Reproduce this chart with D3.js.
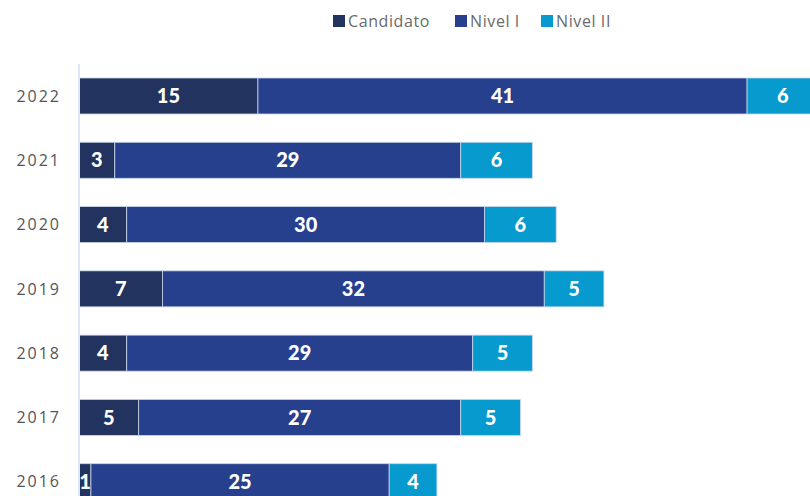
<!DOCTYPE html>
<html>
<head>
<meta charset="utf-8">
<script src="https://cdn.jsdelivr.net/npm/d3@7"></script>
<style>
  body { margin: 0; background: #fff; }
  svg { display: block; }
</style>
</head>
<body>
<div id="main"></div>
<script>
/// data ///
const years = ['2022', '2021', '2020', '2019', '2018', '2017', '2016'];
const series = ['Candidato', 'Nivel I', 'Nivel II'];
const candidato = [15, 3, 4, 7, 4, 5, 1];
const nivel1 = [41, 29, 30, 32, 29, 27, 25];
const nivel2 = [6, 6, 6, 5, 5, 5, 4];
const colors = ['#22335f', '#27408e', '#069ace'];

const w = 810;
const h = 496;

let rows = years.map((y, i) => ({ year: y, 'Candidato': candidato[i], 'Nivel I': nivel1[i], 'Nivel II': nivel2[i] }));
let stacked = d3.stack().keys(series)(rows);

let svg = d3.select('#main')
    .append('svg')
    .attr('width', w)
    .attr('height', h);

// scales //
let xScale = d3.scaleLinear()
    .domain([0, 62])
    .range([79, 79 + 62 * 11.93]);

let yScale = d3.scaleBand()
    .domain(years)
    .range([49.7, 528])
    .padding(0.44);

// bars
let groups = svg.selectAll('g.layer')
    .data(stacked)
    .enter()
    .append('g')
    .attr('class', 'layer')
    .attr('fill', (d, i) => colors[i]);

groups.selectAll('rect')
    .data(d => d)
    .enter()
    .append('rect')
    .attr('x', d => xScale(d[0]))
    .attr('y', d => yScale(d.data.year))
    .attr('width', d => xScale(d[1]) - xScale(d[0]))
    .attr('height', yScale.bandwidth())
    .attr('stroke', '#c9d6ea')
    .attr('stroke-width', 0.8);

// value labels
groups.selectAll('text')
    .data(d => d)
    .enter()
    .append('text')
    .attr('x', d => (xScale(d[0]) + xScale(d[1])) / 2)
    .attr('y', d => yScale(d.data.year) + yScale.bandwidth() / 2)
    .attr('dy', '0.36em')
    .attr('text-anchor', 'middle')
    .attr('fill', '#fff')
    .style('font-family', 'Lato, sans-serif')
    .style('font-weight', 900)
    .style('font-size', '20px')
    .text(d => d[1] - d[0]);

// y axis line
svg.append('line')
    .attr('x1', 79).attr('x2', 79)
    .attr('y1', 64).attr('y2', h)
    .attr('stroke', '#dce8f4')
    .attr('stroke-width', 2);

// year labels
svg.selectAll('text.year')
    .data(years)
    .enter()
    .append('text')
    .attr('class', 'year')
    .attr('x', 61)
    .attr('y', d => yScale(d) + yScale.bandwidth() / 2)
    .attr('dy', '0.36em')
    .attr('text-anchor', 'end')
    .attr('fill', '#555')
    .style('font-family', '"Open Sans", sans-serif')
    .style('font-size', '16px')
    .style('letter-spacing', '2px')
    .text(d => d);

/// legend ///
const legendX = [333, 455, 541];
let legend = svg.selectAll('g.legend')
    .data(series)
    .enter()
    .append('g')
    .attr('class', 'legend')
    .attr('transform', (d, i) => 'translate(' + legendX[i] + ',15)');

legend.append('rect')
    .attr('width', 12)
    .attr('height', 12)
    .attr('fill', (d, i) => colors[i]);

legend.append('text')
    .attr('x', 15)
    .attr('y', 6)
    .attr('dy', '0.36em')
    .attr('fill', '#6a6a6a')
    .style('font-family', '"Open Sans", sans-serif')
    .style('font-size', '16px')
    .style('letter-spacing', '0.6px')
    .text(d => d);
</script>
</body>
</html>
